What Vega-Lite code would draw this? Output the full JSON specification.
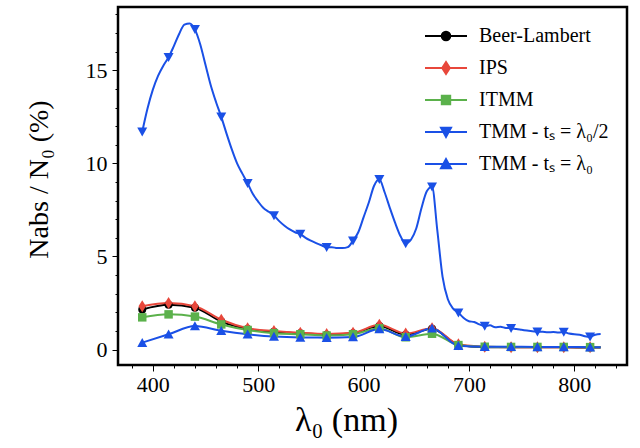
{
"$schema": "https://vega.github.io/schema/vega-lite/v6.json",
"width": 509, "height": 358,
"autosize": {"type": "none"},
"padding": {"left": 118, "top": 7, "right": 13, "bottom": 83},
"config": {
  "view": {"stroke": "black", "strokeWidth": 2.5},
  "font": "Liberation Serif",
  "axis": {"domain": false, "grid": false, "tickColor": "black", "labelColor": "black", "titleColor": "black", "labelFont": "Liberation Serif", "titleFont": "Liberation Serif", "labelFontSize": 22, "titleFontWeight": "normal", "tickWidth": 1},
  "legend": {"orient": "top-right", "offset": 18, "padding": 0, "labelFont": "Liberation Serif", "labelFontSize": 20, "labelFontWeight": "normal", "labelColor": "black", "symbolSize": 400, "symbolStrokeWidth": 2, "rowPadding": 11, "labelOffset": 22, "labelLimit": 300}
},
"data": {"values": [
{"x":390,"s":"Beer-Lambert","y":2.15},{"x":415,"s":"Beer-Lambert","y":2.4},{"x":440,"s":"Beer-Lambert","y":2.25},{"x":465,"s":"Beer-Lambert","y":1.5},{"x":490,"s":"Beer-Lambert","y":1.1},{"x":515,"s":"Beer-Lambert","y":0.95},{"x":540,"s":"Beer-Lambert","y":0.87},{"x":565,"s":"Beer-Lambert","y":0.8},{"x":590,"s":"Beer-Lambert","y":0.87},{"x":615,"s":"Beer-Lambert","y":1.27},{"x":640,"s":"Beer-Lambert","y":0.8},{"x":665,"s":"Beer-Lambert","y":1.12},{"x":690,"s":"Beer-Lambert","y":0.25},{"x":715,"s":"Beer-Lambert","y":0.13},{"x":740,"s":"Beer-Lambert","y":0.12},{"x":765,"s":"Beer-Lambert","y":0.12},{"x":790,"s":"Beer-Lambert","y":0.12},{"x":815,"s":"Beer-Lambert","y":0.11},{"x":825,"s":"Beer-Lambert","y":0.11},
{"x":390,"s":"IPS","y":2.33},{"x":415,"s":"IPS","y":2.5},{"x":440,"s":"IPS","y":2.33},{"x":465,"s":"IPS","y":1.6},{"x":490,"s":"IPS","y":1.15},{"x":515,"s":"IPS","y":1.0},{"x":540,"s":"IPS","y":0.9},{"x":565,"s":"IPS","y":0.84},{"x":590,"s":"IPS","y":0.9},{"x":615,"s":"IPS","y":1.33},{"x":640,"s":"IPS","y":0.86},{"x":665,"s":"IPS","y":1.15},{"x":690,"s":"IPS","y":0.28},{"x":715,"s":"IPS","y":0.15},{"x":740,"s":"IPS","y":0.13},{"x":765,"s":"IPS","y":0.13},{"x":790,"s":"IPS","y":0.13},{"x":815,"s":"IPS","y":0.12},{"x":825,"s":"IPS","y":0.12},
{"x":390,"s":"ITMM","y":1.73},{"x":415,"s":"ITMM","y":1.89},{"x":440,"s":"ITMM","y":1.77},{"x":465,"s":"ITMM","y":1.35},{"x":490,"s":"ITMM","y":1.05},{"x":515,"s":"ITMM","y":0.88},{"x":540,"s":"ITMM","y":0.82},{"x":565,"s":"ITMM","y":0.75},{"x":590,"s":"ITMM","y":0.82},{"x":615,"s":"ITMM","y":1.14},{"x":640,"s":"ITMM","y":0.66},{"x":665,"s":"ITMM","y":0.85},{"x":690,"s":"ITMM","y":0.24},{"x":715,"s":"ITMM","y":0.15},{"x":740,"s":"ITMM","y":0.14},{"x":765,"s":"ITMM","y":0.14},{"x":790,"s":"ITMM","y":0.14},{"x":815,"s":"ITMM","y":0.13},{"x":825,"s":"ITMM","y":0.13},
{"x":390,"s":"TMM - tₛ = λ₀/2","y":11.7},{"x":395,"s":"TMM - tₛ = λ₀/2","y":12.95},{"x":400,"s":"TMM - tₛ = λ₀/2","y":13.95},{"x":405,"s":"TMM - tₛ = λ₀/2","y":14.7},{"x":410,"s":"TMM - tₛ = λ₀/2","y":15.25},{"x":415,"s":"TMM - tₛ = λ₀/2","y":15.7},{"x":420,"s":"TMM - tₛ = λ₀/2","y":16.3},{"x":425,"s":"TMM - tₛ = λ₀/2","y":16.95},{"x":430,"s":"TMM - tₛ = λ₀/2","y":17.45},{"x":435,"s":"TMM - tₛ = λ₀/2","y":17.52},{"x":440,"s":"TMM - tₛ = λ₀/2","y":17.2},{"x":445,"s":"TMM - tₛ = λ₀/2","y":16.4},{"x":450,"s":"TMM - tₛ = λ₀/2","y":15.3},{"x":455,"s":"TMM - tₛ = λ₀/2","y":14.2},{"x":460,"s":"TMM - tₛ = λ₀/2","y":13.3},{"x":465,"s":"TMM - tₛ = λ₀/2","y":12.5},{"x":470,"s":"TMM - tₛ = λ₀/2","y":11.6},{"x":475,"s":"TMM - tₛ = λ₀/2","y":10.75},{"x":480,"s":"TMM - tₛ = λ₀/2","y":10.0},{"x":485,"s":"TMM - tₛ = λ₀/2","y":9.45},{"x":490,"s":"TMM - tₛ = λ₀/2","y":8.93},{"x":495,"s":"TMM - tₛ = λ₀/2","y":8.35},{"x":500,"s":"TMM - tₛ = λ₀/2","y":7.95},{"x":505,"s":"TMM - tₛ = λ₀/2","y":7.6},{"x":510,"s":"TMM - tₛ = λ₀/2","y":7.4},{"x":515,"s":"TMM - tₛ = λ₀/2","y":7.2},{"x":520,"s":"TMM - tₛ = λ₀/2","y":6.9},{"x":525,"s":"TMM - tₛ = λ₀/2","y":6.65},{"x":530,"s":"TMM - tₛ = λ₀/2","y":6.45},{"x":535,"s":"TMM - tₛ = λ₀/2","y":6.3},{"x":540,"s":"TMM - tₛ = λ₀/2","y":6.2},{"x":545,"s":"TMM - tₛ = λ₀/2","y":6.0},{"x":550,"s":"TMM - tₛ = λ₀/2","y":5.85},{"x":555,"s":"TMM - tₛ = λ₀/2","y":5.72},{"x":560,"s":"TMM - tₛ = λ₀/2","y":5.6},{"x":565,"s":"TMM - tₛ = λ₀/2","y":5.5},{"x":570,"s":"TMM - tₛ = λ₀/2","y":5.5},{"x":575,"s":"TMM - tₛ = λ₀/2","y":5.45},{"x":580,"s":"TMM - tₛ = λ₀/2","y":5.45},{"x":585,"s":"TMM - tₛ = λ₀/2","y":5.5},{"x":590,"s":"TMM - tₛ = λ₀/2","y":5.85},{"x":595,"s":"TMM - tₛ = λ₀/2","y":6.3},{"x":600,"s":"TMM - tₛ = λ₀/2","y":7.1},{"x":605,"s":"TMM - tₛ = λ₀/2","y":7.9},{"x":610,"s":"TMM - tₛ = λ₀/2","y":8.8},{"x":615,"s":"TMM - tₛ = λ₀/2","y":9.15},{"x":620,"s":"TMM - tₛ = λ₀/2","y":8.45},{"x":625,"s":"TMM - tₛ = λ₀/2","y":7.6},{"x":630,"s":"TMM - tₛ = λ₀/2","y":6.8},{"x":635,"s":"TMM - tₛ = λ₀/2","y":6.1},{"x":640,"s":"TMM - tₛ = λ₀/2","y":5.7},{"x":645,"s":"TMM - tₛ = λ₀/2","y":5.9},{"x":650,"s":"TMM - tₛ = λ₀/2","y":6.5},{"x":655,"s":"TMM - tₛ = λ₀/2","y":7.6},{"x":660,"s":"TMM - tₛ = λ₀/2","y":8.5},{"x":665,"s":"TMM - tₛ = λ₀/2","y":8.75},{"x":670,"s":"TMM - tₛ = λ₀/2","y":6.4},{"x":675,"s":"TMM - tₛ = λ₀/2","y":3.9},{"x":680,"s":"TMM - tₛ = λ₀/2","y":2.7},{"x":685,"s":"TMM - tₛ = λ₀/2","y":2.2},{"x":690,"s":"TMM - tₛ = λ₀/2","y":1.98},{"x":695,"s":"TMM - tₛ = λ₀/2","y":1.7},{"x":700,"s":"TMM - tₛ = λ₀/2","y":1.52},{"x":705,"s":"TMM - tₛ = λ₀/2","y":1.48},{"x":710,"s":"TMM - tₛ = λ₀/2","y":1.35},{"x":715,"s":"TMM - tₛ = λ₀/2","y":1.26},{"x":720,"s":"TMM - tₛ = λ₀/2","y":1.3},{"x":725,"s":"TMM - tₛ = λ₀/2","y":1.2},{"x":730,"s":"TMM - tₛ = λ₀/2","y":1.22},{"x":735,"s":"TMM - tₛ = λ₀/2","y":1.16},{"x":740,"s":"TMM - tₛ = λ₀/2","y":1.15},{"x":745,"s":"TMM - tₛ = λ₀/2","y":1.1},{"x":750,"s":"TMM - tₛ = λ₀/2","y":1.06},{"x":755,"s":"TMM - tₛ = λ₀/2","y":1.02},{"x":760,"s":"TMM - tₛ = λ₀/2","y":0.98},{"x":765,"s":"TMM - tₛ = λ₀/2","y":0.96},{"x":770,"s":"TMM - tₛ = λ₀/2","y":0.95},{"x":775,"s":"TMM - tₛ = λ₀/2","y":0.93},{"x":780,"s":"TMM - tₛ = λ₀/2","y":0.94},{"x":785,"s":"TMM - tₛ = λ₀/2","y":0.92},{"x":790,"s":"TMM - tₛ = λ₀/2","y":0.94},{"x":795,"s":"TMM - tₛ = λ₀/2","y":0.86},{"x":800,"s":"TMM - tₛ = λ₀/2","y":0.82},{"x":805,"s":"TMM - tₛ = λ₀/2","y":0.8},{"x":810,"s":"TMM - tₛ = λ₀/2","y":0.72},{"x":815,"s":"TMM - tₛ = λ₀/2","y":0.69},{"x":820,"s":"TMM - tₛ = λ₀/2","y":0.8},{"x":825,"s":"TMM - tₛ = λ₀/2","y":0.83},
{"x":390,"s":"TMM - tₛ = λ₀","y":0.37},{"x":415,"s":"TMM - tₛ = λ₀","y":0.82},{"x":440,"s":"TMM - tₛ = λ₀","y":1.26},{"x":465,"s":"TMM - tₛ = λ₀","y":1.01},{"x":490,"s":"TMM - tₛ = λ₀","y":0.82},{"x":515,"s":"TMM - tₛ = λ₀","y":0.7},{"x":540,"s":"TMM - tₛ = λ₀","y":0.65},{"x":565,"s":"TMM - tₛ = λ₀","y":0.64},{"x":590,"s":"TMM - tₛ = λ₀","y":0.67},{"x":615,"s":"TMM - tₛ = λ₀","y":1.1},{"x":640,"s":"TMM - tₛ = λ₀","y":0.69},{"x":665,"s":"TMM - tₛ = λ₀","y":1.14},{"x":690,"s":"TMM - tₛ = λ₀","y":0.2},{"x":715,"s":"TMM - tₛ = λ₀","y":0.15},{"x":740,"s":"TMM - tₛ = λ₀","y":0.15},{"x":765,"s":"TMM - tₛ = λ₀","y":0.14},{"x":790,"s":"TMM - tₛ = λ₀","y":0.14},{"x":815,"s":"TMM - tₛ = λ₀","y":0.13},{"x":825,"s":"TMM - tₛ = λ₀","y":0.13}
]},
"encoding": {
  "x": {"field": "x", "type": "quantitative", "scale": {"domain": [367, 850], "nice": false, "zero": false},
    "axis": {"values": [380,400,420,440,460,480,500,520,540,560,580,600,620,640,660,680,700,720,740,760,780,800,820,840],
      "labelExpr": "datum.value % 100 === 0 ? datum.label : ''",
      "tickSize": {"condition": {"test": "datum.value % 100 === 0", "value": 6}, "value": 3},
      "labelPadding": 3, "title": "λ₀ (nm)", "titleFontSize": 34, "titlePadding": 8, "titleX": 228}},
  "y": {"field": "y", "type": "quantitative", "scale": {"domain": [-0.83, 18.4], "nice": false, "zero": false},
    "axis": {"values": [0,1,2,3,4,5,6,7,8,9,10,11,12,13,14,15,16,17,18],
      "labelExpr": "datum.value % 5 === 0 ? datum.label : ''",
      "tickSize": {"condition": {"test": "datum.value % 5 === 0", "value": 6}, "value": 3},
      "labelPadding": 5, "title": "Nabs / N₀ (%)", "titleFontSize": 28, "titlePadding": 32, "titleY": 172}},
  "color": {"field": "s", "type": "nominal", "title": null,
    "scale": {"domain": ["Beer-Lambert", "IPS", "ITMM", "TMM - tₛ = λ₀/2", "TMM - tₛ = λ₀"], "range": ["#000000", "#e8473b", "#5bb14b", "#1a50e6", "#1a50e6"]}}
},
"layer": [
  {"mark": {"type": "line", "interpolate": "monotone", "strokeWidth": 2}},
  {"transform": [{"filter": "datum.s === 'Beer-Lambert' && (datum.x - 390) % 25 === 0 && datum.x <= 815"}],
   "mark": {"type": "point", "filled": true, "opacity": 1, "shape": "circle", "size": 64}},
  {"transform": [{"filter": "datum.s === 'IPS' && (datum.x - 390) % 25 === 0 && datum.x <= 815"}],
   "mark": {"type": "point", "filled": true, "opacity": 1, "shape": "M0,-1.2L0.75,0L0,1.2L-0.75,0Z", "size": 100}},
  {"transform": [{"filter": "datum.s === 'ITMM' && (datum.x - 390) % 25 === 0 && datum.x <= 815"}],
   "mark": {"type": "point", "filled": true, "opacity": 1, "shape": "square", "size": 72}},
  {"transform": [{"filter": "datum.s === 'TMM - tₛ = λ₀/2' && (datum.x - 390) % 25 === 0 && datum.x <= 815"}],
   "mark": {"type": "point", "filled": true, "opacity": 1, "shape": "M-1,-0.85H1L0,0.95Z", "size": 100}},
  {"transform": [{"filter": "datum.s === 'TMM - tₛ = λ₀' && (datum.x - 390) % 25 === 0 && datum.x <= 815"}],
   "mark": {"type": "point", "filled": true, "opacity": 1, "shape": "M-1,0.85H1L0,-0.95Z", "size": 100}},
  {"transform": [{"filter": "datum.x < 0"}],
   "mark": {"type": "point", "filled": true, "opacity": 1},
   "encoding": {
     "shape": {"field": "s", "type": "nominal", "title": null,
       "scale": {"domain": ["Beer-Lambert", "IPS", "ITMM", "TMM - tₛ = λ₀/2", "TMM - tₛ = λ₀"],
         "range": ["M-2.1,0H2.1M-0.43,0A0.43,0.43,0,1,1,0.43,0A0.43,0.43,0,1,1,-0.43,0Z", "M-2.1,0H2.1M0,-0.6L0.38,0L0,0.6L-0.38,0Z", "M-2.1,0H2.1M-0.42,-0.42H0.42V0.42H-0.42Z", "M-2.1,0H2.1M-0.5,-0.43H0.5L0,0.48Z", "M-2.1,0H2.1M-0.5,0.43H0.5L0,-0.48Z"]}},
     "stroke": {"field": "s", "type": "nominal", "title": null,
       "scale": {"domain": ["Beer-Lambert", "IPS", "ITMM", "TMM - tₛ = λ₀/2", "TMM - tₛ = λ₀"], "range": ["#000000", "#e8473b", "#5bb14b", "#1a50e6", "#1a50e6"]}}
   }}
]
}
